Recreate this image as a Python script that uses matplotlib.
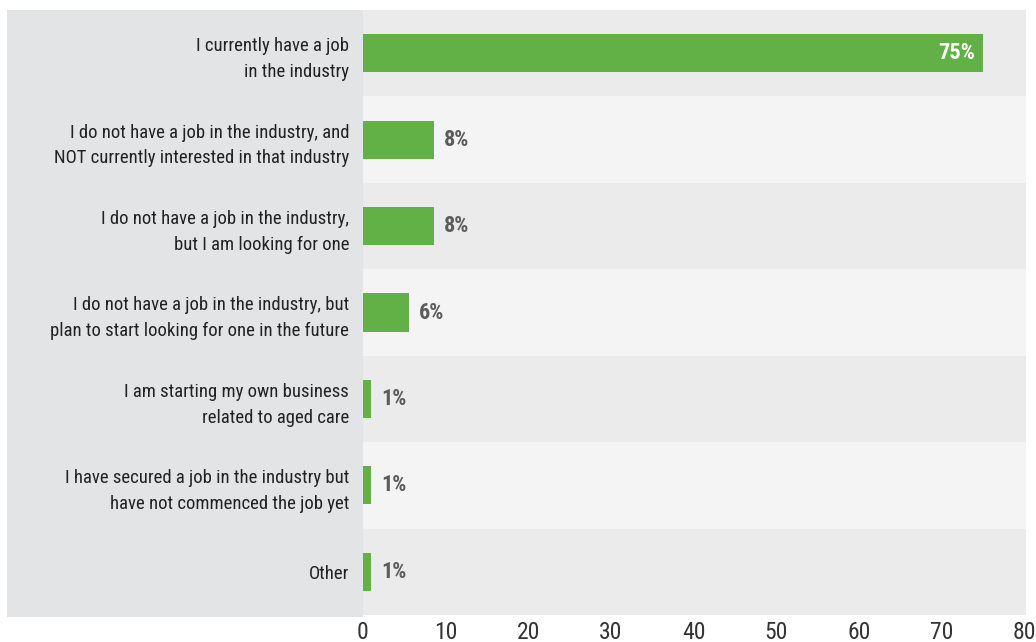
import matplotlib
matplotlib.use("Agg")
import matplotlib.pyplot as plt
from matplotlib import font_manager

categories = [
    "I currently have a job\nin the industry",
    "I do not have a job in the industry, and\nNOT currently interested in that industry",
    "I do not have a job in the industry,\nbut I am looking for one",
    "I do not have a job in the industry, but\nplan to start looking for one in the future",
    "I am starting my own business\nrelated to aged care",
    "I have secured a job in the industry but\nhave not commenced the job yet",
    "Other",
]
values = [75, 8.6, 8.6, 5.6, 1.0, 1.0, 1.0]
pct_labels = ["75%", "8%", "8%", "6%", "1%", "1%", "1%"]
xticks = [0, 10, 20, 30, 40, 50, 60, 70, 80]

names = {f.name for f in font_manager.fontManager.ttflist}
prefs = ["Liberation Sans Narrow", "Roboto Condensed", "Open Sans Condensed", "Roboto", "DejaVu Sans"]
fam = [n for n in prefs if n in names]
plt.rcParams['font.family'] = fam

green = "#62b147"
W, H = 1036, 642
fig = plt.figure(figsize=(W / 100, H / 100), dpi=100)
fig.patch.set_facecolor("white")

# grey label panel on the left, behind everything
bg = fig.add_axes([7 / W, 1 - 617 / H, (363 - 7) / W, (617 - 10) / H], zorder=-5)
bg.set_facecolor("#e3e4e6")
bg.set_xticks([])
bg.set_yticks([])
for s in bg.spines.values():
    s.set_visible(False)

ax = fig.add_axes([363 / W, 1 - 615 / H, (1026 - 363) / W, (615 - 10) / H])
ax.set_facecolor("none")
n = len(categories)
ys = list(range(n))
for i in ys:
    ax.axhspan(i - 0.5, i + 0.5, color="#ebebeb" if i % 2 == 0 else "#f3f4f3", lw=0, zorder=0)

ax.barh(ys, values, height=0.44, color=green, zorder=2)
for i, (v, lab) in enumerate(zip(values, pct_labels)):
    if v > 20:
        ax.annotate(lab, (v, i), xytext=(-6, 0), textcoords="offset points",
                    ha="right", va="center", color="white", fontsize=16, fontweight="bold")
    else:
        ax.annotate(lab, (v, i), xytext=(7, 0), textcoords="offset points",
                    ha="left", va="center", color="#5c5c5c", fontsize=16, fontweight="bold")

ax.set_ylim(n - 0.5, -0.5)
ax.set_xlim(0, 80.2)
ax.set_xticks(xticks)
ax.set_xticklabels([str(t) for t in xticks], fontsize=17, color="#333333")
ax.set_yticks(ys)
ylabs = ax.set_yticklabels(categories, fontsize=16, color="#222222", linespacing=1.55)
ax.tick_params(axis="y", length=0, pad=10)
ax.tick_params(axis="x", length=0, pad=4)
for s in ax.spines.values():
    s.set_visible(False)

# shrink the category labels until the widest one fits the grey panel
fig.canvas.draw()
r = fig.canvas.get_renderer()
widest = max(t.get_window_extent(r).width for t in ylabs)
size = 16 * min(1.0, 300 / widest)
for t in ylabs:
    t.set_fontsize(size)

fig.savefig("out.png", dpi=100)
